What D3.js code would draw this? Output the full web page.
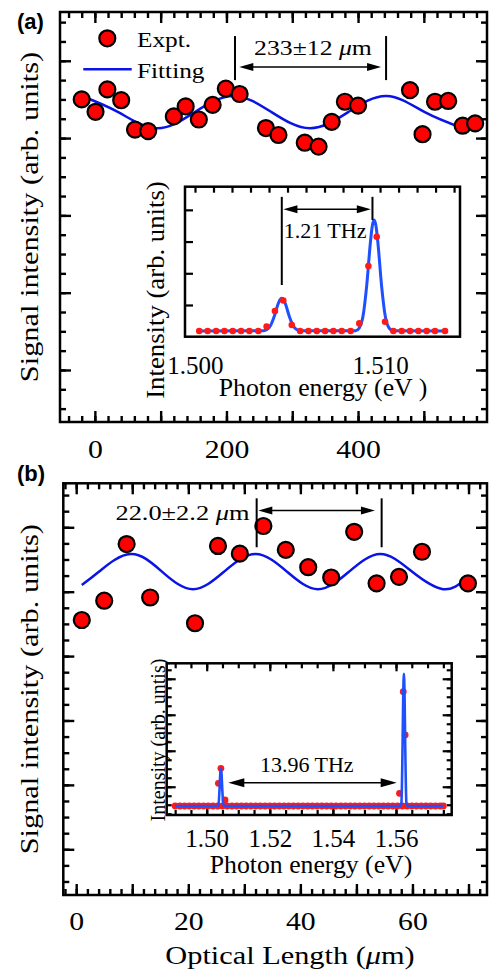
<!DOCTYPE html>
<html><head><meta charset="utf-8">
<script src="https://cdn.jsdelivr.net/npm/d3@7"></script>
<style>body{margin:0;background:#fff} svg{display:block}</style>
</head><body>
<script>
// ---------- Panel (a) ----------
const aLength = [-20,1,19,40,61,81,120,138,158,179,199,220,260,279,319,340,360,380,400,479,498,517,537,559,578];
const aSignal = [3.50,3.34,3.63,3.49,3.11,3.09,3.28,3.41,3.24,3.43,3.64,3.57,3.13,3.04,2.94,2.89,3.21,3.47,3.42,3.62,3.05,3.47,3.48,3.16,3.19];
const aFitLength = [-20,35.5,93.8,152,210.3,268.5,326.8,385,443.3,501.5,559.8];
const aFitSignal = [3.544,3.336,3.127,3.336,3.545,3.336,3.127,3.336,3.545,3.336,3.127];
const aXLabels = [0,200,400];
// inset (a)
const iaEnergy = [1.50023,1.50068,1.50114,1.50159,1.50204,1.50249,1.50294,1.50342,1.50387,1.50432,1.50477,1.50523,1.50568,1.50613,1.50658,1.50703,1.50748,1.50793,1.50841,1.50888,1.50937,1.50982,1.51027,1.51072,1.51117,1.51162,1.51207,1.51252,1.51297,1.51351];
const iaIntensity = [0.18,0.18,0.18,0.18,0.18,0.18,0.18,0.18,0.32,0.81,1.14,0.37,0.18,0.18,0.18,0.18,0.18,0.18,0.18,0.42,2.23,3.15,0.47,0.18,0.18,0.18,0.18,0.18,0.18,0.18];
const iaFitEnergy = [1.50023,1.50369,1.50389,1.50409,1.50429,1.50449,1.50459,1.50469,1.50479,1.50489,1.50509,1.50529,1.50549,1.50569,1.50868,1.50888,1.50908,1.50928,1.50948,1.50958,1.50968,1.50978,1.50988,1.51008,1.51028,1.51048,1.51068,1.51351];
const iaFitIntensity = [0.18,0.19,0.225,0.36,0.65,1.03,1.16,1.21,1.16,1.03,0.65,0.36,0.225,0.19,0.19,0.28,0.65,1.62,2.98,3.49,3.68,3.49,2.98,1.62,0.65,0.28,0.19,0.18];
const iaXLabels = [1.500,1.510];
// ---------- Panel (b) ----------
const bLength = [1.0,5.0,9.0,13.2,21.2,25.3,29.2,33.4,37.4,41.4,45.5,49.6,53.6,57.6,61.7,69.9];
const bSignal = [3.56,3.86,4.74,3.91,3.51,4.71,4.59,5.02,4.65,4.38,4.22,4.93,4.13,4.23,4.62,4.13];
const bFitLength = [1,4.1,9.7,15.3,20.85,26.4,32.0,37.6,43.15,48.7,54.3,59.9,65.45,69.6];
const bFitSignal = [4.103,4.312,4.585,4.312,4.039,4.312,4.585,4.312,4.039,4.312,4.585,4.312,4.039,4.20];
const bXLabels = [0,20,40,60];
// inset (b)
const ibBaseEnergy = [1.4900,1.4915,1.4930,1.4945,1.4960,1.4975,1.4990,1.5005,1.5020,1.5035,1.5050,1.5065,1.5080,1.5095,1.5110,1.5125,1.5140,1.5155,1.5170,1.5185,1.5200,1.5215,1.5230,1.5245,1.5260,1.5275,1.5290,1.5305,1.5320,1.5335,1.5350,1.5365,1.5380,1.5395,1.5410,1.5425,1.5440,1.5455,1.5470,1.5485,1.5500,1.5515,1.5530,1.5545,1.5560,1.5575,1.5590,1.5605,1.5620,1.5635,1.5650,1.5665,1.5680,1.5695,1.5710,1.5725,1.5740,1.5750];
const ibBaseIntensity = 0.86;
const ibPeakEnergy = [1.5037,1.5045,1.5058,1.5611,1.5623,1.5629];
const ibPeakIntensity = [3.38,5.05,1.53,2.27,13.56,8.75];
const ibFitEnergy = [1.4900,1.5032,1.5037,1.5041,1.5043,1.5045,1.5047,1.5049,1.5053,1.5058,1.5612,1.5617,1.5621,1.5623,1.5625,1.5627,1.5629,1.5633,1.5638,1.5750];
const ibFitIntensity = [0.86,0.86,0.96,2.96,4.46,5.06,4.46,2.96,0.96,0.86,0.86,1.16,8.16,13.36,15.56,13.36,8.16,1.16,0.86,0.86];
const ibXLabels = [1.50,1.52,1.54,1.56];

const SERIF = "'Liberation Serif','Times New Roman',serif";
const SANS = "'Liberation Sans',Arial,sans-serif";
const svg = d3.select('body').append('svg').attr('width',489).attr('height',970);

function label(parent, x, y, parts, size, sx, anchor, rot) {
  const t = parent.append('text')
    .attr('transform', `translate(${x},${y})` + (rot ? ` rotate(${rot})` : '') + ` scale(${sx},1)`)
    .attr('font-family', SERIF).attr('font-size', size)
    .attr('text-anchor', anchor || 'middle').attr('fill', '#000');
  (Array.isArray(parts) ? parts : [[parts, false]]).forEach(([s, it]) =>
    t.append('tspan').attr('font-style', it ? 'italic' : null).text(s));
  return t;
}
function ticks(g, axisFn, scale, values, size, transform, sw) {
  g.append('g').attr('transform', transform)
    .call(axisFn(scale).tickValues(values).tickSize(-size).tickFormat(''))
    .call(s => s.select('.domain').remove())
    .call(s => s.selectAll('line').attr('stroke', '#000').attr('stroke-width', sw || 2.4));
}
function rangeVals(a, b, step) { const out = []; for (let v = a; v <= b + 1e-9; v += step) out.push(+v.toFixed(6)); return out; }
function dblArrow(g, x1, x2, y, hl, hh, sw) {
  g.append('line').attr('x1', x1 + hl - 1).attr('x2', x2 - hl + 1).attr('y1', y).attr('y2', y)
    .attr('stroke', '#000').attr('stroke-width', sw);
  g.append('path').attr('d', `M${x1},${y}L${x1 + hl},${y - hh}L${x1 + hl},${y + hh}Z`).attr('fill', '#000');
  g.append('path').attr('d', `M${x2},${y}L${x2 - hl},${y - hh}L${x2 - hl},${y + hh}Z`).attr('fill', '#000');
}

// ===== Panel (a) =====
{
  const L = 60, R = 487, T = 12, B = 422;
  const x = d3.scaleLinear().domain([-53, 596]).range([L, R]);
  const y = d3.scaleLinear().domain([-0.673, 4.631]).range([B, T]);
  const g = svg.append('g');
  const xmin = rangeVals(-40, 580, 20), xmaj = rangeVals(0, 500, 100);
  const ymin = rangeVals(-0.5, 4.5, 0.25), ymaj = rangeVals(0, 4, 1);
  ticks(g, d3.axisBottom, x, xmin, 6, `translate(0,${B})`);
  ticks(g, d3.axisBottom, x, xmaj, 11, `translate(0,${B})`);
  ticks(g, d3.axisTop, x, xmin, 6, `translate(0,${T})`);
  ticks(g, d3.axisTop, x, xmaj, 11, `translate(0,${T})`);
  ticks(g, d3.axisLeft, y, ymin, 6, `translate(${L},0)`);
  ticks(g, d3.axisLeft, y, ymaj, 11, `translate(${L},0)`);
  ticks(g, d3.axisRight, y, ymin, 6, `translate(${R},0)`);
  ticks(g, d3.axisRight, y, ymaj, 11, `translate(${R},0)`);
  g.append('rect').attr('x', L).attr('y', T).attr('width', R - L).attr('height', B - T)
    .attr('fill', 'none').attr('stroke', '#000').attr('stroke-width', 2.5);
  g.append('g').attr('transform', `translate(0,${B})`)
    .call(d3.axisBottom(x).tickValues(aXLabels).tickSize(0).tickFormat(d3.format('d')))
    .call(s => s.select('.domain').remove())
    .call(s => s.selectAll('text').attr('y', 36).attr('dy', 0).attr('font-family', SERIF)
      .attr('font-size', 25).attr('fill', '#000').attr('transform', 'scale(1.19,1)'));
  const fitData = aFitLength.map((v, i) => [v, aFitSignal[i]]);
  g.append('path').datum(fitData)
    .attr('d', d3.line().x(d => x(d[0])).y(d => y(d[1])).curve(d3.curveNatural))
    .attr('fill', 'none').attr('stroke', '#0a14e6').attr('stroke-width', 2.5);
  g.selectAll('circle.pt').data(aLength.map((v, i) => [v, aSignal[i]])).join('circle')
    .attr('cx', d => x(d[0])).attr('cy', d => y(d[1])).attr('r', 8)
    .attr('fill', '#ff0000').attr('stroke', '#000').attr('stroke-width', 2.2);
  [213, 442.6].forEach(v => g.append('line').attr('x1', x(v)).attr('x2', x(v))
    .attr('y1', y(4.32)).attr('y2', y(3.75)).attr('stroke', '#000').attr('stroke-width', 2));
  dblArrow(g, x(219.5), x(435), y(3.92), 14, 4, 1.6);
  label(g, x(331.5), y(4.075), [['233\u00b112 ', false], ['\u03bc', true], ['m', false]], 22, 1.17);
  g.append('circle').attr('cx', 107.3).attr('cy', 38.3).attr('r', 8)
    .attr('fill', '#ff0000').attr('stroke', '#000').attr('stroke-width', 2.2);
  label(g, 137, 46.5, 'Expt.', 22, 1.15, 'start');
  g.append('line').attr('x1', 83.3).attr('x2', 131.7).attr('y1', 69.3).attr('y2', 69.3)
    .attr('stroke', '#0a14e6').attr('stroke-width', 2.5);
  label(g, 137, 77.5, 'Fitting', 22, 1.15, 'start');
  label(g, 38, (T + B) / 2, 'Signal intensity (arb. units)', 25.5, 1.19, 'middle', -90);
  g.append('text').attr('x', 17).attr('y', 28.5).attr('font-family', SANS).attr('font-weight', 'bold')
    .attr('font-size', 22).text('(a)');

  // ---- inset (a) ----
  const iL = 185, iR = 460, iT = 186.7, iB = 336.7;
  const ix = d3.scaleLinear().domain([1.49946, 1.51432]).range([iL, iR]);
  const iy = d3.scaleLinear().domain([0, 4.73]).range([iB, iT]);
  const ig = g.append('g');
  ig.append('rect').attr('x', iL).attr('y', iT).attr('width', iR - iL).attr('height', iB - iT).attr('fill', '#fff');
  ticks(ig, d3.axisTop, ix, rangeVals(1.500, 1.514, 0.001), 6, `translate(0,${iT})`, 2.2);
  ticks(ig, d3.axisLeft, iy, [1, 2, 3, 4], 8, `translate(${iL},0)`, 2.2);
  const fit = iaFitEnergy.map((v, i) => [v, iaFitIntensity[i]]);
  ig.append('path').datum(fit)
    .attr('d', d3.line().x(d => ix(d[0])).y(d => iy(d[1])).curve(d3.curveMonotoneX))
    .attr('fill', 'none').attr('stroke', '#1e50ff').attr('stroke-width', 3);
  ig.selectAll('circle').data(iaEnergy.map((v, i) => [v, iaIntensity[i]])).join('circle')
    .attr('cx', d => ix(d[0])).attr('cy', d => iy(d[1])).attr('r', 3.3).attr('fill', '#ff1a1a');
  ig.append('rect').attr('x', iL).attr('y', iT).attr('width', iR - iL).attr('height', iB - iT)
    .attr('fill', 'none').attr('stroke', '#000').attr('stroke-width', 2.5);
  ig.append('g').attr('transform', `translate(0,${iB})`)
    .call(d3.axisBottom(ix).tickValues(iaXLabels).tickSize(0).tickFormat(d3.format('.3f')))
    .call(s => s.select('.domain').remove())
    .call(s => s.selectAll('text').attr('y', 37.5).attr('dy', 0).attr('font-family', SERIF)
      .attr('font-size', 25).attr('fill', '#000'));
  [[1.50469, 4.41, 1.63], [1.50959, 4.41, 3.68]].forEach(([e, a, b]) =>
    ig.append('line').attr('x1', ix(e)).attr('x2', ix(e)).attr('y1', iy(a)).attr('y2', iy(b))
      .attr('stroke', '#000').attr('stroke-width', 2));
  dblArrow(ig, ix(1.50478), ix(1.50950), iy(4.02), 14, 4, 1.6);
  label(ig, ix(1.50703), iy(3.10), '1.21 THz', 21, 1.05);
  label(ig, 323, 396, 'Photon energy (eV )', 25, 1.03);
  label(ig, 164, 290, 'Intensity (arb. units)', 25, 1.07, 'middle', -90);
}

// ===== Panel (b) =====
{
  const L = 63.3, R = 487, T = 483.3, B = 895;
  const x = d3.scaleLinear().domain([-2.3, 73.3]).range([L, R]);
  const y = d3.scaleLinear().domain([-0.71, 5.683]).range([B, T]);
  const g = svg.append('g');
  const xmin = rangeVals(-2, 72, 2), xmaj = rangeVals(0, 70, 10);
  const ymin = rangeVals(-0.5, 5.5, 0.25), ymaj = rangeVals(0, 5, 1);
  ticks(g, d3.axisBottom, x, xmin, 6, `translate(0,${B})`);
  ticks(g, d3.axisBottom, x, xmaj, 11, `translate(0,${B})`);
  ticks(g, d3.axisTop, x, xmin, 6, `translate(0,${T})`);
  ticks(g, d3.axisTop, x, xmaj, 11, `translate(0,${T})`);
  ticks(g, d3.axisLeft, y, ymin, 6, `translate(${L},0)`);
  ticks(g, d3.axisLeft, y, ymaj, 11, `translate(${L},0)`);
  ticks(g, d3.axisRight, y, ymin, 6, `translate(${R},0)`);
  ticks(g, d3.axisRight, y, ymaj, 11, `translate(${R},0)`);
  g.append('rect').attr('x', L).attr('y', T).attr('width', R - L).attr('height', B - T)
    .attr('fill', 'none').attr('stroke', '#000').attr('stroke-width', 2.5);
  g.append('g').attr('transform', `translate(0,${B})`)
    .call(d3.axisBottom(x).tickValues(bXLabels).tickSize(0).tickFormat(d3.format('d')))
    .call(s => s.select('.domain').remove())
    .call(s => s.selectAll('text').attr('y', 35.5).attr('dy', 0).attr('font-family', SERIF)
      .attr('font-size', 25).attr('fill', '#000').attr('transform', 'scale(1.19,1)'));
  const fitData = bFitLength.map((v, i) => [v, bFitSignal[i]]);
  g.append('path').datum(fitData)
    .attr('d', d3.line().x(d => x(d[0])).y(d => y(d[1])).curve(d3.curveNatural))
    .attr('fill', 'none').attr('stroke', '#0a14e6').attr('stroke-width', 2.5);
  g.selectAll('circle.pt').data(bLength.map((v, i) => [v, bSignal[i]])).join('circle')
    .attr('cx', d => x(d[0])).attr('cy', d => y(d[1])).attr('r', 8)
    .attr('fill', '#ff0000').attr('stroke', '#000').attr('stroke-width', 2.2);
  [32.2, 54.5].forEach(v => g.append('line').attr('x1', x(v)).attr('x2', x(v))
    .attr('y1', y(5.45)).attr('y2', y(4.69)).attr('stroke', '#000').attr('stroke-width', 2));
  dblArrow(g, x(32.5), x(53.3), y(5.26), 14, 4, 1.6);
  label(g, x(18.96), y(5.113), [['22.0\u00b12.2 ', false], ['\u03bc', true], ['m', false]], 22, 1.2);
  label(g, 38, (T + B) / 2, 'Signal intensity (arb. units)', 25.5, 1.19, 'middle', -90);
  label(g, 290, 964, [['Optical Length (', false], ['\u03bc', true], ['m)', false]], 25.5, 1.19);
  g.append('text').attr('x', 17).attr('y', 481).attr('font-family', SANS).attr('font-weight', 'bold')
    .attr('font-size', 22).text('(b)');

  // ---- inset (b) ----
  const iL = 166.7, iR = 451.7, iT = 663.3, iB = 815;
  const ix = d3.scaleLinear().domain([1.48732, 1.57765]).range([iL, iR]);
  const iy = d3.scaleLinear().domain([-0.14, 16.72]).range([iB, iT]);
  const ig = g.append('g');
  ig.append('rect').attr('x', iL).attr('y', iT).attr('width', iR - iL).attr('height', iB - iT).attr('fill', '#fff');
  const exT = rangeVals(1.490, 1.575, 0.005), exM = rangeVals(1.50, 1.56, 0.02);
  ticks(ig, d3.axisTop, ix, exT, 5, `translate(0,${iT})`, 2.2);
  ticks(ig, d3.axisTop, ix, exM, 8, `translate(0,${iT})`, 2.2);
  ticks(ig, d3.axisBottom, ix, exT, 5, `translate(0,${iB})`, 2.2);
  ticks(ig, d3.axisBottom, ix, exM, 8, `translate(0,${iB})`, 2.2);
  const iyT = rangeVals(0, 16, 1), iyM = rangeVals(3, 15, 4);
  ticks(ig, d3.axisLeft, iy, iyT, 5, `translate(${iL},0)`, 2.2);
  ticks(ig, d3.axisLeft, iy, iyM, 9, `translate(${iL},0)`, 2.2);
  ticks(ig, d3.axisRight, iy, iyT, 5, `translate(${iR},0)`, 2.2);
  ticks(ig, d3.axisRight, iy, iyM, 9, `translate(${iR},0)`, 2.2);
  ig.selectAll('circle.base').data(ibBaseEnergy).join('circle').attr('class', 'base')
    .attr('cx', d => ix(d)).attr('cy', iy(ibBaseIntensity)).attr('r', 3.4).attr('fill', '#ff1a1a');
  ig.selectAll('circle.pk').data(ibPeakEnergy.map((v, i) => [v, ibPeakIntensity[i]])).join('circle').attr('class', 'pk')
    .attr('cx', d => ix(d[0])).attr('cy', d => iy(d[1])).attr('r', 3.4).attr('fill', '#ff1a1a');
  const fit = ibFitEnergy.map((v, i) => [v, ibFitIntensity[i]]);
  ig.append('path').datum(fit)
    .attr('d', d3.line().x(d => ix(d[0])).y(d => iy(d[1])).curve(d3.curveMonotoneX))
    .attr('fill', 'none').attr('stroke', '#1e50ff').attr('stroke-width', 2.6);
  ig.append('rect').attr('x', iL).attr('y', iT).attr('width', iR - iL).attr('height', iB - iT)
    .attr('fill', 'none').attr('stroke', '#000').attr('stroke-width', 2.5);
  ig.append('g').attr('transform', `translate(0,${iB})`)
    .call(d3.axisBottom(ix).tickValues(ibXLabels).tickSize(0).tickFormat(d3.format('.2f')))
    .call(s => s.select('.domain').remove())
    .call(s => s.selectAll('text').attr('y', 32).attr('dy', 0).attr('font-family', SERIF)
      .attr('font-size', 25).attr('fill', '#000'));
  dblArrow(ig, ix(1.50685), ix(1.56022), iy(3.45), 16, 4.5, 1.6);
  label(ig, ix(1.53170), iy(4.67), '13.96 THz', 22, 1.0);
  label(ig, 311, 873, 'Photon energy (eV)', 25, 1.03);
  label(ig, 165, 740, 'Intensity (arb. untis)', 20, 1.0, 'middle', -90);
}
</script>
</body></html>
